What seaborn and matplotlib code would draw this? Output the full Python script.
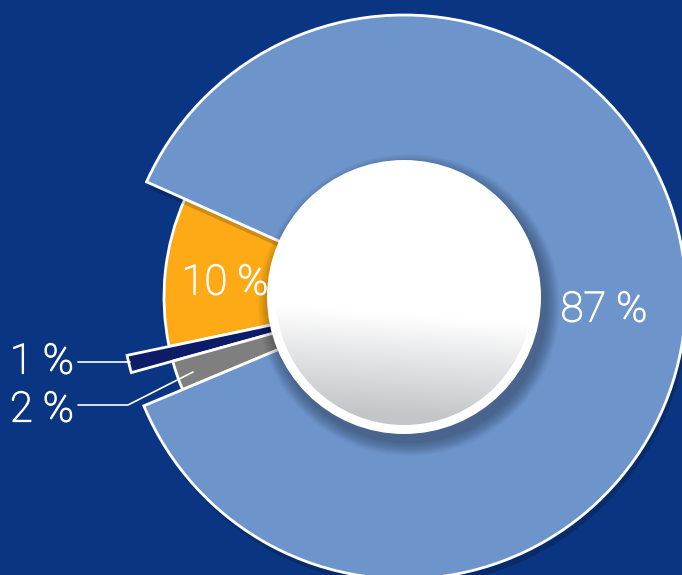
import numpy as np
import matplotlib.pyplot as plt
import seaborn as sns
from matplotlib.patches import Circle
from matplotlib import patheffects as pe

sns.set_style("white")
plt.rcParams['font.family'] = ['Roboto', 'DejaVu Sans']

# data
shares = [87, 10, 1, 2]
labels = ['87 %', '10 %', '1 %', '2 %']
colors = ['#6d95cc', '#fdaa16', '#0c1c66', '#7f7f7f']
radii = [282, 240, 283, 240]

bg = '#0a3583'
cx, cy = 404, 278

fig = plt.figure(figsize=(6.82, 5.75), dpi=100, facecolor=bg)
ax = fig.add_axes([0, 0, 1, 1])
ax.set_facecolor(bg)

wedges, _ = ax.pie(shares, colors=colors, startangle=202.7, counterclock=True,
                   center=(cx, cy), radius=285, frame=True,
                   wedgeprops=dict(width=160, edgecolor='white', linewidth=2))
for w, r in zip(wedges, radii):
    w.set_radius(r)
    w.set_width(r - 125)
    w.set_zorder(2)
# big slice sits on top and throws a faint shadow onto the orange one
wedges[0].set_zorder(2.5)
wedges[0].set_path_effects([pe.SimplePatchShadow(offset=(2, -5), shadow_rgbFace='black', alpha=0.18),
                            pe.Normal()])

# soft shadow of the centre disc
for k in range(14):
    ax.add_patch(Circle((cx + 5, cy - 8), 137 + 14 - k, color='black',
                        alpha=0.025, lw=0, zorder=3))

# centre disc with gradient on lower half
ax.add_patch(Circle((cx, cy), 137, color='white', lw=0, zorder=4))
xs = np.linspace(cx - 130, cx + 130, 200)
ys = np.linspace(cy - 130, cy + 130, 200)
X, Y = np.meshgrid(xs, ys)
y0 = cy - 18 - 0.075 * (X - cx)
v = np.clip((y0 - Y) / 100, 0, 1)[..., None]
top = np.array([1.0, 1.0, 1.0])
bot = np.array([0.77, 0.776, 0.79])
img = top * (1 - v) + bot * v
im = ax.imshow(img, extent=[cx - 130, cx + 130, cy - 130, cy + 130],
               origin='lower', zorder=5, interpolation='bilinear')
im.set_clip_path(Circle((cx, cy), 128, transform=ax.transData))

# labels (light weight, thickened a touch)
thick = [pe.withStroke(linewidth=0.9, foreground='white')]
txt = dict(color='white', fontsize=30, fontweight='light', va='center', path_effects=thick)
ax.text(604, 575 - 310, labels[0], ha='center', zorder=6, **txt)
ax.text(225, 575 - 283, labels[1], ha='center', zorder=6, **txt)
ax.text(10, 575 - 362, labels[2], ha='left', **txt)
ax.text(10, 575 - 410, labels[3], ha='left', **txt)

ax.plot([78, 130], [575 - 362, 575 - 362], color='white', lw=1.2, zorder=6)
ax.plot([78, 128, 193], [575 - 405, 575 - 405, 575 - 372], color='white', lw=1.2, zorder=6)

ax.set_xlim(0, 682)
ax.set_ylim(0, 575)
ax.axis('off')
fig.savefig('out.png', dpi=100, facecolor=bg)
